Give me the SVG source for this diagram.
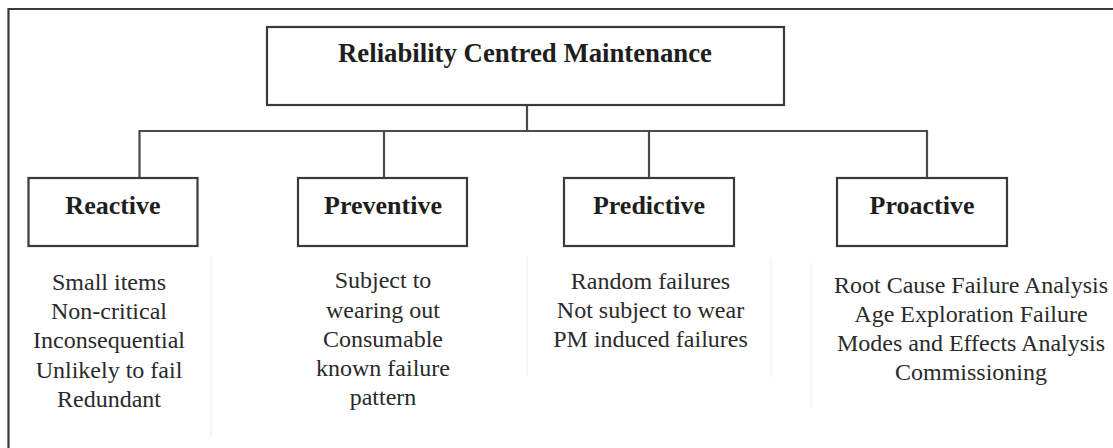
<svg xmlns="http://www.w3.org/2000/svg" width="1113" height="448" viewBox="0 0 1113 448">
  <style>
    .frame { fill: none; stroke: #3a3a3a; stroke-width: 2.2; }
    .box { fill: #ffffff; stroke: #3a3a3a; stroke-width: 2.2; }
    .link { fill: none; stroke: #4a4a4a; stroke-width: 2.2; }
    .guide { fill: none; stroke: #f0f0f0; stroke-width: 1; }
    .title { font-family: "Liberation Serif", "Times New Roman", serif; font-weight: bold; font-size: 27px; fill: #1e1e1e; text-anchor: middle; }
    .head { font-family: "Liberation Serif", "Times New Roman", serif; font-weight: bold; font-size: 26px; fill: #1e1e1e; text-anchor: middle; }
    .body { font-family: "Liberation Serif", "Times New Roman", serif; font-size: 24px; fill: #2a2a2a; text-anchor: middle; }
  </style>
  <rect width="1113" height="448" fill="#ffffff"/>

  <!-- outer frame, open to the right and bottom -->
  <path class="frame" d="M8.5,448 V9 H1113"/>

  <!-- faint column separators -->
  <g id="separators">
    <line class="guide" x1="211" y1="257" x2="211" y2="437"/>
    <line class="guide" x1="527" y1="257" x2="527" y2="377"/>
    <line class="guide" x1="771" y1="258" x2="771" y2="378"/>
    <line class="guide" x1="811" y1="262" x2="811" y2="408"/>
  </g>

  <g id="connectors">
    <path class="link" d="M527,105 V131"/>
    <path class="link" d="M139.5,178 V131 H927 V178"/>
    <path class="link" d="M384,131 V178"/>
    <path class="link" d="M649,131 V178"/>
  </g>

  <g id="rcm">
    <rect class="box" x="267" y="27" width="517" height="78"/>
    <text class="title" x="525" y="62" textLength="374" lengthAdjust="spacingAndGlyphs">Reliability Centred Maintenance</text>
  </g>

  <g id="reactive">
    <rect class="box" x="28.5" y="178" width="169" height="68"/>
    <text class="head" x="113" y="213.5">Reactive</text>
    <text class="body" x="109" y="290">Small items</text>
    <text class="body" x="109" y="319">Non-critical</text>
    <text class="body" x="109" y="348">Inconsequential</text>
    <text class="body" x="109" y="378">Unlikely to fail</text>
    <text class="body" x="109" y="407">Redundant</text>
  </g>

  <g id="preventive">
    <rect class="box" x="298" y="178" width="169" height="68"/>
    <text class="head" x="383" y="213.5">Preventive</text>
    <text class="body" x="383" y="288">Subject to</text>
    <text class="body" x="383" y="318">wearing out</text>
    <text class="body" x="383" y="347">Consumable</text>
    <text class="body" x="383" y="376">known failure</text>
    <text class="body" x="383" y="405">pattern</text>
  </g>

  <g id="predictive">
    <rect class="box" x="564" y="178" width="170" height="68"/>
    <text class="head" x="649" y="213.5">Predictive</text>
    <text class="body" x="650.5" y="289">Random failures</text>
    <text class="body" x="650.5" y="318">Not subject to wear</text>
    <text class="body" x="650.5" y="347">PM induced failures</text>
  </g>

  <g id="proactive">
    <rect class="box" x="837" y="178" width="170" height="68"/>
    <text class="head" x="922" y="213.5">Proactive</text>
    <text class="body" x="971" y="293">Root Cause Failure Analysis</text>
    <text class="body" x="971" y="322">Age Exploration Failure</text>
    <text class="body" x="971" y="351">Modes and Effects Analysis</text>
    <text class="body" x="971" y="380">Commissioning</text>
  </g>
</svg>
